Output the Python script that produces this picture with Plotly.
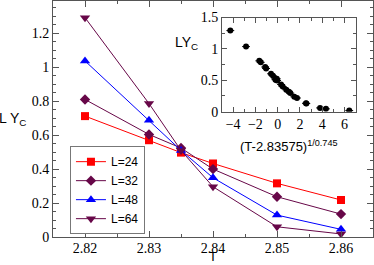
import plotly.graph_objects as go

# ---- data ----
T = [2.82, 2.83, 2.835, 2.84, 2.85, 2.86]
labels = ["L=24", "L=32", "L=48", "L=64"]
y_L24 = [0.712, 0.570, 0.497, 0.433, 0.316, 0.218]
y_L32 = [0.810, 0.604, 0.524, 0.400, 0.237, 0.135]
y_L48 = [1.037, 0.688, 0.510, 0.349, 0.129, 0.045]
y_L64 = [1.292, 0.786, 0.510, 0.296, 0.060, 0.018]

# inset: scaled variable (T-2.83575)^(1/0.745)
xs_L24 = [-1.12, -0.41, -0.05, 0.30, 1.01, 1.73]
xs_L32 = [-1.65, -0.60, -0.08, 0.45, 1.49, 2.54]
xs_L48 = [-2.84, -1.04, -0.14, 0.77, 2.57, 4.33]
xs_L64 = [-4.25, -1.52, -0.20, 1.13, 3.80, 6.42]
xs_err = 0.35

main_ticks_y = [0, 0.2, 0.4, 0.6, 0.8, 1, 1.2]

MAROON = "#670748"
series = [
    (labels[0], y_L24, "#ff0000", "square", 8),
    (labels[1], y_L32, MAROON, "diamond", 8),
    (labels[2], y_L48, "#0000ff", "triangle-up", 9),
    (labels[3], y_L64, MAROON, "triangle-down", 9),
]

fig = go.Figure()
for name, ys, col, sym, sz in series:
    fig.add_trace(go.Scatter(
        x=T, y=ys, name=name, mode="lines+markers",
        line=dict(color=col, width=1),
        marker=dict(symbol=sym, size=sz, color=col),
        xaxis="x", yaxis="y",
    ))

fig.add_trace(go.Scatter(
    x=xs_L24 + xs_L32 + xs_L48 + xs_L64,
    y=y_L24 + y_L32 + y_L48 + y_L64,
    mode="markers", showlegend=False,
    marker=dict(symbol="circle", size=6, color="black"),
    error_x=dict(type="constant", value=xs_err, color="black", thickness=1, width=0),
    xaxis="x2", yaxis="y2",
))

AX = "#555555"
serif = "Liberation Serif"
sans = "Liberation Sans"

common = dict(
    ticks="inside", tickcolor=AX, tickwidth=1,
    showline=True, linecolor=AX, linewidth=1, mirror="allticks",
    showgrid=False, zeroline=False, automargin=False,
    tickfont=dict(family=serif, size=14, color="black"),
)

fig.update_layout(
    template="none",
    width=374, height=265,
    margin=dict(l=53, r=1, t=1, b=28),
    paper_bgcolor="white", plot_bgcolor="white",
    showlegend=True,
    legend=dict(
        x=0.053, y=0.012, xanchor="left", yanchor="bottom",
        bgcolor="white", bordercolor="#777777", borderwidth=1,
        font=dict(family=sans, size=12, color="black"),
        itemwidth=30, tracegroupgap=0,
    ),
    xaxis=dict(
        range=[2.815, 2.865], dtick=0.01, tick0=2.82, ticklen=6,
        ticklabelstandoff=-2,
        minor=dict(dtick=0.005, ticks="inside", ticklen=3, tickcolor=AX, showgrid=False),
        domain=[0, 1], **common,
    ),
    yaxis=dict(
        range=[0, 1.39], tickvals=main_ticks_y, ticklen=6,
        minor=dict(dtick=0.05, ticks="inside", ticklen=3, tickcolor=AX, showgrid=False),
        domain=[0, 1], **common,
    ),
    xaxis2=dict(
        range=[-5, 7], dtick=2, tick0=0, anchor="y2", ticklen=5,
        domain=[0.528, 0.946],
        minor=dict(dtick=1, ticks="inside", ticklen=3, tickcolor=AX, showgrid=False),
        **common,
    ),
    yaxis2=dict(
        range=[0, 1.5], dtick=0.5, tick0=0, anchor="x2", ticklen=5,
        domain=[0.531, 0.930],
        minor=dict(dtick=0.25, ticks="inside", ticklen=3, tickcolor=AX, showgrid=False),
        **common,
    ),
    annotations=[
        dict(text="L Y<sub>C</sub>", xref="paper", yref="paper",
             x=-0.128, y=0.50, xanchor="center", yanchor="middle", showarrow=False,
             font=dict(family=sans, size=14, color="black")),
        dict(text="T", xref="paper", yref="paper",
             x=0.5, y=-0.117, xanchor="center", yanchor="bottom", showarrow=False,
             borderpad=0, font=dict(family=sans, size=13, color="black")),
        dict(text="LY<sub>C</sub>", xref="paper", yref="paper",
             x=0.416, y=0.82, xanchor="center", yanchor="middle", showarrow=False,
             font=dict(family=sans, size=14, color="black")),
        dict(text="(T-2.83575)<sup>1/0.745</sup>", xref="paper", yref="paper",
             x=0.737, y=0.43, xanchor="center", yanchor="top", showarrow=False,
             font=dict(family=sans, size=13, color="black")),
    ],
)

fig.write_html("out.html",
               config={"displayModeBar": False},
               post_script="document.body.style.margin='0';document.body.style.padding='0';")
